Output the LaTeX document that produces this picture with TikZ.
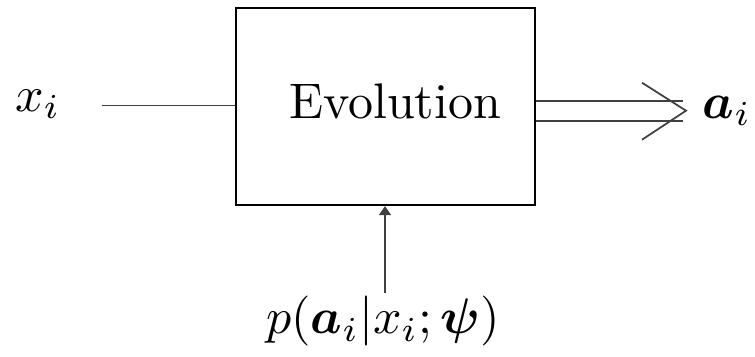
\documentclass[tikz,border=0pt]{standalone}
\usepackage{amsmath,amssymb,bm}
\usetikzlibrary{arrows.meta}

\begin{document}
\begin{tikzpicture}[x=0.2pt,y=0.2pt,yscale=-1,xscale=1,
  wire/.style={line width=0.35pt,color=black!75},
  evobox/.style={draw,line width=0.45pt,minimum width=59.8pt,minimum height=39.4pt,inner sep=0pt}]
\useasboundingbox (0,0) rectangle (755,357);

%Rectangle [id:evo]
\node [evobox] (evo) at (385.5,106.5) {};
% Text Node
\node (evotxt) at (395,101) {Evolution};

% Text Node
\node (xlab) at (38,104) {$x_i$};
% Text Node
\node (alab) at (727,111) {$\bm{a}_i$};
% Text Node
\node (plab) at (383,321) {$p(\bm{a}_i|x_i;\bm{\psi})$};

\coordinate (xin) at (102,105.5);
\coordinate (pin) at (385,293);
\coordinate (aup) at (683,100.7);
\coordinate (alo) at (683,120.7);
\coordinate (atip) at (686,110.7);

%Straight Lines
\draw [wire] (xin) -- (xin -| evo.west);
%Straight Lines
\draw [wire,-{Triangle[length=1.8pt,width=2.4pt]}] (pin) -- (pin |- evo.south);
%Double Arrow
\draw [wire] (aup -| evo.east) -- (aup);
\draw [wire] (alo -| evo.east) -- (alo);
\draw [wire,line join=miter] ([shift={(-44,-28)}]atip) -- (atip) -- ([shift={(-44,29)}]atip);

\end{tikzpicture}
\end{document}
